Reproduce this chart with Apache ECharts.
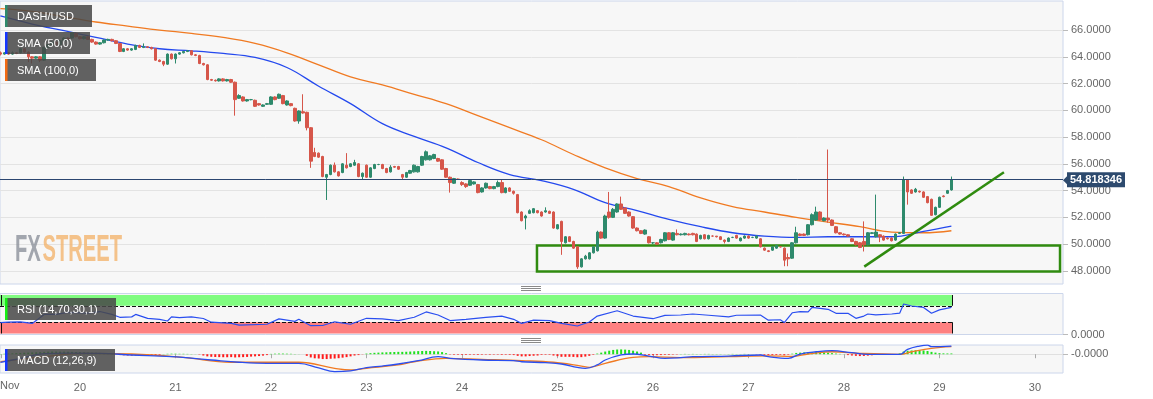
<!DOCTYPE html>
<html><head><meta charset="utf-8">
<script src="https://cdn.jsdelivr.net/npm/echarts@6.0.0/dist/echarts.min.js"></script>
<style>html,body{margin:0;padding:0;background:#fff;}#c{width:1153px;height:399px;}</style>
</head><body><div id="c"></div>
<script>
// ---------------- DATA ----------------
// hourly candles [open, close, low, high]; first candle = Nov 19 04:00 (hour 4 from Nov 19 00:00)
const firstHour = 4;
const candles = [
// Nov 19 04:00 - 23:00
[64.3,64.2,64.1,64.4],[64.2,64.3,64.15,64.35],[64.3,64.2,64.15,64.35],[64.2,64.3,64.15,64.4],
[64.3,64.25,64.2,64.35],[64.3,64.6,64.25,64.65],[64.6,64.35,64.3,64.65],[64.35,64.0,63.6,64.4],
[64.0,63.9,63.5,64.05],[63.9,64.0,63.85,64.05],[64.0,63.75,63.6,64.05],[63.75,64.7,63.7,64.75],
[64.7,64.9,64.65,64.95],[64.9,65.1,64.85,65.15],[65.1,64.9,64.85,65.15],[64.9,65.2,64.85,65.25],
[65.2,65.4,65.15,65.45],[65.4,65.3,65.25,65.45],[65.4,65.8,65.35,65.85],[65.75,65.5,65.45,65.8],
// Nov 20
[65.5,65.35,65.3,65.55],[65.35,65.5,65.3,65.55],[65.5,65.3,65.25,65.55],[65.3,65.1,65.05,65.35],
[65.1,64.95,64.9,65.15],[64.95,65.05,64.9,65.1],[65.05,65.25,65.0,65.3],[65.25,65.3,65.2,65.35],
[65.3,65.2,65.15,65.35],[65.2,65.0,64.95,65.25],[65.0,64.4,64.35,65.05],[64.4,64.6,64.35,64.65],
[64.6,64.5,64.45,64.65],[64.5,64.6,64.45,64.65],[64.55,64.85,64.5,64.9],[64.85,64.7,64.65,64.9],
[64.7,64.75,64.65,65.0],[64.75,64.7,64.65,64.8],[64.7,64.6,64.55,64.75],[64.6,63.75,63.7,64.65],
[63.75,63.65,63.6,63.8],[63.65,63.45,63.3,63.7],[63.45,64.2,63.4,64.25],[64.2,63.85,63.8,64.25],
// Nov 21
[63.85,64.2,63.5,64.25],[64.2,64.3,64.15,64.35],[64.3,64.4,64.25,64.45],[64.4,64.45,64.35,64.5],
[64.45,64.15,64.1,64.5],[64.15,64.1,64.05,64.2],[64.1,63.5,63.45,64.15],[63.5,63.4,63.35,63.55],
[63.4,62.3,62.25,63.45],[62.3,62.25,62.2,62.35],[62.25,62.2,62.15,62.3],[62.2,62.35,62.15,62.4],
[62.35,62.2,62.15,62.4],[62.2,62.3,62.15,62.35],[62.3,62.1,62.05,62.35],[62.1,60.8,59.6,62.15],
[60.9,61.1,60.85,61.2],[61.0,60.7,60.65,61.05],[60.7,60.8,60.65,60.85],[60.8,60.8,60.75,60.85],
[60.75,60.3,60.25,60.8],[60.5,60.4,60.35,60.55],[60.3,60.4,60.25,60.45],[60.45,60.5,60.4,60.55],
// Nov 22
[60.45,61.0,60.4,61.05],[61.0,60.8,60.75,61.05],[60.9,61.2,60.85,61.25],[61.1,60.5,60.45,61.15],
[60.4,60.7,60.35,60.75],[60.5,60.35,60.3,60.55],[60.15,59.2,59.15,60.2],[59.2,59.95,59.0,60.0],
[59.9,59.8,59.75,61.2],[59.85,58.7,58.5,59.9],[58.7,56.2,55.7,58.75],[56.85,56.55,56.5,57.2],
[56.8,56.5,56.45,56.85],[56.55,55.05,55.0,56.6],[55.0,55.2,53.3,55.25],[55.2,55.9,55.15,55.95],
[55.9,55.4,55.35,56.1],[55.4,55.1,55.05,55.45],[55.35,56.0,55.3,56.05],[55.9,55.7,55.65,56.8],
[55.8,56.0,55.75,56.05],[55.9,56.1,55.85,56.3],[56.0,55.05,55.0,56.05],[55.05,55.3,54.85,55.35],
// Nov 23
[55.9,55.0,54.95,55.95],[55.0,55.7,54.95,55.75],[55.65,55.95,55.6,56.0],[55.95,55.95,55.9,56.0],
[55.95,55.65,55.6,56.0],[55.65,55.35,55.3,55.7],[55.4,55.75,55.35,55.9],[55.8,55.75,55.7,55.85],
[55.8,55.6,55.55,55.85],[55.2,55.0,54.8,55.25],[55.0,55.35,54.95,55.4],[55.3,55.5,55.25,55.55],
[55.4,55.9,55.35,55.95],[55.4,55.8,55.35,55.85],[55.9,56.55,55.85,56.6],[56.3,56.9,56.25,57.0],
[56.3,56.6,56.25,56.65],[56.4,56.7,56.35,56.75],[56.4,56.2,56.15,56.45],[56.3,55.6,55.55,56.35],
[55.65,55.0,54.95,55.7],[55.0,54.6,53.85,55.05],[54.55,54.9,54.5,54.95],[54.85,54.85,54.8,54.9],
// Nov 24
[54.6,54.45,54.35,54.7],[54.5,54.3,54.2,54.55],[54.4,54.75,54.35,54.8],[54.5,54.65,54.45,54.7],
[54.45,53.85,53.8,54.5],[53.9,54.2,53.85,54.25],[54.2,54.55,54.15,54.6],[54.3,54.15,54.1,54.35],
[54.15,54.3,54.1,54.35],[54.3,54.6,54.25,54.75],[54.6,53.85,53.8,54.8],[53.85,54.2,53.8,54.25],
[54.2,53.95,53.9,54.25],[53.95,53.8,53.7,54.0],[53.7,52.35,52.3,53.75],[52.4,51.75,51.7,52.45],
[51.95,52.1,51.1,52.2],[52.3,52.5,52.25,52.6],[52.35,52.65,52.3,52.7],[52.5,52.35,52.3,52.55],
[52.4,52.1,52.05,52.45],[52.4,52.5,52.35,52.75],[52.45,52.3,52.25,52.5],[52.4,51.2,51.15,52.45],
// Nov 25
[51.15,51.45,51.1,51.5],[51.7,50.2,49.2,51.75],[50.1,50.55,50.05,50.6],[50.55,50.2,50.15,50.6],
[50.2,49.7,49.65,50.25],[49.8,48.3,48.15,49.85],[48.3,48.9,48.25,48.95],[48.9,49.1,48.85,49.2],
[48.9,49.35,48.85,49.4],[49.35,49.8,49.3,49.85],[49.5,50.9,49.45,51.0],[50.9,50.45,50.4,50.95],
[50.45,52.1,50.4,52.2],[52.4,52.0,51.9,53.9],[52.0,52.6,51.95,52.7],[52.4,53.0,52.35,53.05],
[53.0,52.6,52.55,53.55],[52.7,52.3,52.25,52.75],[52.4,52.1,52.05,52.45],[52.05,51.2,51.15,52.1],
[51.2,51.0,50.95,51.25],[51.0,50.8,50.75,51.05],[50.75,51.05,50.7,51.1],[50.55,50.1,50.05,50.6],
// Nov 26
[50.1,50.1,50.0,50.15],[50.1,50.0,49.95,50.15],[50.1,50.35,50.05,50.4],[50.25,50.85,50.2,50.9],
[50.85,50.35,50.3,50.9],[50.3,50.85,50.25,50.9],[50.8,50.7,50.65,51.1],[50.7,50.75,50.65,50.8],
[50.7,50.8,50.65,50.85],[50.75,50.7,50.65,50.8],[50.8,50.7,50.65,50.85],[50.75,50.2,50.15,50.8],
[50.4,50.65,50.35,50.7],[50.7,50.4,50.35,50.75],[50.4,50.65,50.35,50.7],[50.6,50.6,50.55,50.65],
[50.6,50.55,50.5,50.6],[50.55,50.35,50.3,50.6],[50.3,50.2,50.05,50.35],[50.2,50.45,50.15,50.5],
[50.5,50.5,50.45,50.55],[50.65,50.45,50.4,50.7],[50.25,50.45,50.2,50.5],[50.45,50.6,50.4,50.65],
// Nov 27
[50.6,50.45,50.4,50.65],[50.5,50.5,50.45,50.55],[50.45,50.6,50.4,50.65],[50.4,49.8,49.75,50.45],
[49.7,49.55,49.5,49.75],[49.5,49.45,49.4,49.55],[49.55,49.8,49.5,49.85],[49.7,49.9,49.65,49.95],
[49.8,49.8,49.75,49.85],[49.7,48.8,48.35,49.75],[49.0,48.9,48.35,49.3],[48.95,50.1,48.9,50.15],
[50.1,50.85,50.05,51.3],[50.75,50.65,50.6,50.8],[50.75,50.65,50.6,50.8],[50.7,51.45,50.65,51.5],
[51.45,52.2,51.4,52.3],[51.8,52.4,51.75,52.8],[52.4,51.8,51.75,52.45],[51.75,51.95,51.7,52.0],
[51.95,51.8,51.6,57.07],[51.8,51.4,51.35,51.85],[51.3,50.85,50.8,51.35],[50.85,50.75,50.7,50.9],
// Nov 28
[50.75,50.7,50.65,50.8],[50.7,50.6,50.55,50.75],[50.4,50.2,50.15,50.45],[50.2,49.95,49.9,50.25],
[50.1,49.75,49.7,50.15],[50.2,49.95,49.45,51.7],[49.95,50.85,49.9,50.9],[50.8,50.85,50.75,50.9],
[50.55,50.9,50.5,53.7],[50.7,50.55,50.15,50.75],[50.6,50.3,50.25,50.65],[50.45,50.4,50.35,50.5],
[50.45,50.25,50.2,50.5],[50.3,50.75,50.25,50.8],[50.8,50.85,50.75,50.9],[50.8,54.8,50.75,55.05],
[54.8,53.9,52.95,54.85],[54.05,53.8,53.75,54.1],[53.9,54.1,53.85,54.2],[53.95,53.9,53.85,54.0],
[53.9,53.5,53.45,53.95],[53.55,53.1,53.05,53.6],[53.35,52.15,52.1,53.4],[52.2,52.75,52.15,52.8],
// Nov 29
[52.75,53.5,52.7,53.55],[53.6,53.55,53.5,53.65],[53.8,54.0,53.75,54.05],[54.05,54.818346,54.0,55.05]
];
const lastPrice = 54.818346;

// moving averages, sampled at candle indexes
const smaIdx = [0,8,16,24,32,40,48,56,64,72,80,88,96,104,112,120,128,136,144,152,160,168,176,184,192,200,208,216,224,232,239];
const sma50  = [67.05,66.45,65.95,65.45,64.95,64.6,64.45,64.25,63.95,63.2,61.8,60.5,59.0,58.05,57.2,56.1,55.2,54.75,54.1,53.1,52.5,51.85,51.3,50.85,50.6,50.5,50.55,50.55,50.55,50.95,51.35];
const sma100 = [67.6,67.4,67.0,66.6,66.3,66.0,65.75,65.45,65.0,64.3,63.4,62.5,61.9,61.2,60.5,59.6,58.7,57.8,56.7,55.7,54.9,54.3,53.45,52.8,52.4,52.0,51.65,51.3,50.9,50.85,51.0];

// RSI [candle index, value]
const rsi = [[0,29],[2,30],[5,31],[8,27],[11,49],[14,49],[17,54],[22,52],[25,56],[28,49],[30,42],[33,43],[34,49],[37,39.5],[40,37],[42,33],[43,43],[45,41],[48,43],[51,39],[53,30],[58,27],[60,23],[67,25],[70,38],[74,32],[75,37],[78,21.5],[81,22],[84,31],[88,25],[92,39.5],[96,38],[100,34],[104,42],[107,55],[110,47.5],[113,34],[117,37],[122,42],[126,44.7],[129,37],[131,27],[134,35],[138,34],[141,27],[145,20.7],[148,30.5],[150,45],[155,58],[159,45],[164,38.5],[167,46.5],[171,47.5],[174,50],[178,47],[183,43],[185,47],[191,47.5],[193,35],[196,36],[197,29],[199,53],[201,56],[203,55],[204,66],[208,61.5],[210,51.7],[213,51.7],[215,39.5],[217,45],[218,50],[220,48],[224,50],[226,52],[227,74.4],[229,69.5],[232,66],[234,51.7],[236,60],[239,66]];
const rsiUpper = 70, rsiLower = 30;

// MACD line and signal [candle index, value]
const macd = [[0,-0.75],[5,-0.4],[11,0.05],[17,0.1],[25,0.08],[33,-0.07],[43,-0.23],[53,-0.54],[60,-0.75],[67,-0.85],[75,-0.85],[80,-1.28],[84,-1.62],[88,-1.56],[92,-1.25],[96,-1.1],[100,-0.91],[105,-0.6],[110,-0.23],[113,-0.38],[121,-0.54],[129,-0.6],[131,-0.7],[137,-0.79],[141,-0.91],[145,-1.22],[147,-1.31],[150,-1.0],[152,-0.54],[156,-0.07],[159,0.02],[163,-0.17],[167,-0.38],[171,-0.32],[174,-0.23],[183,-0.17],[191,-0.07],[193,-0.23],[198,-0.38],[201,0.02],[205,0.23],[209,0.33],[214,0.14],[218,-0.01],[226,-0.01],[228,0.45],[231,0.76],[233,0.85],[234,0.7],[239,0.76]];
const signal = [[0,-0.7],[11,-0.23],[21,0.08],[33,0.02],[46,-0.3],[58,-0.75],[75,-0.75],[84,-1.31],[88,-1.47],[92,-1.31],[100,-1.0],[104,-0.7],[112,-0.38],[121,-0.48],[131,-0.6],[139,-0.75],[146,-1.1],[148,-1.22],[152,-0.85],[159,-0.29],[163,-0.23],[171,-0.32],[183,-0.23],[193,-0.15],[199,-0.2],[203,0.02],[209,0.23],[216,0.08],[226,-0.01],[229,0.23],[234,0.55],[239,0.7]];
// MACD histogram, one bar per candle
const hist = [
0.02,0.04,0.06,0.08,0.1,0.12,0.14,0.15,0.17,0.18,0.2,0.22,0.24,0.25,0.25,0.24,0.24,0.23,0.22,0.21,0.2,0.18,0.16,0.15,
0.14,0.12,0.1,0.07,0.03,-0.03,-0.08,-0.1,-0.12,-0.13,-0.12,-0.12,-0.11,-0.1,-0.08,-0.09,-0.06,0.02,0.04,0.05,0.05,0.04,0.04,0.03,
0.02,0.01,-0.03,-0.12,-0.2,-0.24,-0.26,-0.27,-0.28,-0.28,-0.27,-0.3,-0.28,-0.27,-0.25,-0.22,-0.2,-0.17,-0.13,-0.08,0.03,0.05,0.06,0.06,
0.05,0.04,0.02,0.01,0.0,-0.15,-0.3,-0.38,-0.4,-0.45,-0.45,-0.42,-0.4,-0.37,-0.32,-0.27,-0.2,-0.12,-0.08,-0.02,0.06,0.1,0.13,0.15,
0.17,0.18,0.2,0.21,0.22,0.22,0.23,0.25,0.27,0.29,0.3,0.31,0.3,0.28,0.26,0.2,0.1,-0.03,-0.05,-0.05,-0.06,-0.06,-0.05,-0.05,
-0.06,-0.05,-0.04,-0.05,-0.04,-0.04,-0.06,-0.05,-0.06,-0.08,-0.15,-0.2,-0.2,-0.17,-0.14,-0.12,-0.06,-0.05,-0.05,-0.12,-0.18,-0.24,-0.24,-0.24,
-0.25,-0.28,-0.27,-0.22,-0.15,-0.05,0.06,0.15,0.25,0.33,0.4,0.44,0.45,0.43,0.4,0.33,0.25,0.15,-0.05,-0.08,-0.09,-0.09,-0.08,-0.06,
-0.06,-0.04,-0.03,0.02,0.03,0.02,0.03,0.02,0.02,0.03,0.03,0.02,0.02,0.02,0.01,0.02,0.03,0.02,0.02,0.03,0.02,0.01,-0.02,-0.04,
-0.06,-0.08,-0.08,-0.07,-0.06,-0.1,-0.05,0.05,0.12,0.15,0.17,0.18,0.2,0.2,0.18,0.16,0.14,0.1,0.06,0.03,0.01,-0.08,-0.12,-0.15,
-0.17,-0.16,-0.13,-0.1,-0.06,-0.04,-0.03,-0.02,-0.02,0.0,0.08,0.25,0.32,0.35,0.37,0.37,0.35,0.3,0.22,0.15,0.1,0.08,0.07,0.07
];

// axes
const xMin = 3.9, xMax = 271.05;            // hours from Nov 19 00:00
const dayHours = [24,48,72,96,120,144,168,192,216,240,264];
const dayLabels = ['20','21','22','23','24','25','26','27','28','29','30'];
const monthLabel = 'Nov';
const priceTicks = [48,50,52,54,56,58,60,62,64,66];
const priceMin = 47.02, priceMax = 68.17;

// annotations (hours, price)
const supportBox = [138.85, 49.9, 270.3, 47.96];
const trendLine = [[221.1, 48.32], [256.2, 55.37]];
const bandEnd = 243.15;

const legendBoxes = [
  {text:'DASH/USD', y:5, w:87, bar:'#2e8a6c'},
  {text:'SMA (50,0)', y:32, w:85, bar:'#1536ff'},
  {text:'SMA (100,0)', y:59, w:91, bar:'#f26a12'},
  {text:'RSI (14,70,30,1)', y:298, w:111, bar:'#14f014'},
  {text:'MACD (12,26,9)', y:349, w:110, bar:'#1536ff'}
];

// ---------------- CHART ----------------
const T = i => firstHour + i;
const FONT = '"Liberation Sans", Arial, sans-serif';
const chart = echarts.init(document.getElementById('c'), null, {renderer:'canvas'});

const graphics = [];
legendBoxes.forEach(b => {
  graphics.push({type:'rect', z:100, zlevel:1, shape:{x:5,y:b.y,width:b.w,height:22}, style:{fill:'rgba(72,72,72,0.86)'}});
  graphics.push({type:'rect', z:101, zlevel:1, shape:{x:5,y:b.y,width:2.5,height:22}, style:{fill:b.bar}});
  graphics.push({type:'text', z:102, zlevel:1, x:17, y:b.y+11.5, style:{text:b.text, fill:'#fff', font:'11px '+FONT, verticalAlign:'middle'}});
});
graphics.push({type:'text', x:15, y:251, z:1, scaleX:0.56, style:{text:'FX', fill:'rgba(140,145,155,0.8)', font:'bold 36px '+FONT, verticalAlign:'middle'}});
graphics.push({type:'text', x:42.5, y:251, z:1, scaleX:0.56, style:{text:'STREET', fill:'rgba(242,180,110,0.8)', font:'bold 36px '+FONT, verticalAlign:'middle'}});
graphics.push({type:'text', x:0, y:386, z:10, style:{text:monthLabel, fill:'#666', font:'11px '+FONT, verticalAlign:'middle'}});
graphics.push({type:'polygon', z:50, zlevel:1, shape:{points:[[1063,180.2],[1067,176.2],[1067,184.2]]}, style:{fill:'#2d4a6e'}});
[286.5,288.5,290.5,338.5,340.5,342.5].forEach(y => {
  graphics.push({type:'line', z:10, shape:{x1:521,y1:y,x2:541,y2:y}, style:{stroke:'#8a8a8a', lineWidth:1}});
});

const gridBase = {left:0, width:1063, show:true, backgroundColor:'#f7f7f7', borderColor:'#ccd6eb', borderWidth:1, outerBoundsMode:'none', containLabel:false};

const option = {
  animation:false,
  textStyle:{fontFamily:FONT},
  grid:[
    Object.assign({top:1, height:283}, gridBase),
    Object.assign({top:293.5, height:41}, gridBase),
    Object.assign({top:345, height:28}, gridBase)
  ],
  xAxis:[
    {type:'value', gridIndex:0, min:xMin, max:xMax, show:false},
    {type:'value', gridIndex:1, min:xMin, max:xMax, show:false},
    {type:'value', gridIndex:2, min:xMin, max:xMax,
      axisLine:{show:false},
      axisTick:{show:true, length:4, customValues:[4.15].concat(dayHours), lineStyle:{color:'#aaa'}},
      axisLabel:{customValues:dayHours, formatter:v => dayLabels[dayHours.indexOf(Math.round(v))] || '', color:'#666', fontSize:11, margin:9},
      splitLine:{show:false}}
  ],
  yAxis:[
    {type:'value', gridIndex:0, position:'right', min:priceMin, max:priceMax,
      axisLine:{show:false},
      axisTick:{show:true, length:5, customValues:priceTicks, lineStyle:{color:'#bbb'}},
      axisLabel:{customValues:priceTicks, formatter:v => v.toFixed(4), color:'#666', fontSize:11, margin:8},
      splitLine:{show:true, lineStyle:{color:'#e3e3e3'}}},
    {type:'value', gridIndex:1, position:'right', min:0, max:100,
      axisLine:{show:false},
      axisTick:{show:true, length:5, customValues:[0], lineStyle:{color:'#bbb'}},
      axisLabel:{customValues:[0], formatter:() => '0.0000', color:'#666', fontSize:11, margin:8},
      splitLine:{show:false}},
    {type:'value', gridIndex:2, position:'right', min:-1.75, max:0.86,
      axisLine:{show:false},
      axisTick:{show:true, length:5, customValues:[0], lineStyle:{color:'#bbb'}},
      axisLabel:{customValues:[0], formatter:() => '-0.0000', color:'#666', fontSize:11, margin:8},
      splitLine:{show:true, lineStyle:{color:'#e0e0e0'}}}
  ],
  graphic:graphics,
  series:[
    {type:'line', xAxisIndex:0, yAxisIndex:0, data:smaIdx.map((k,j)=>[T(k), sma100[j]]), smooth:0.4, showSymbol:false, lineStyle:{color:'#f07a22', width:1.3}, z:3},
    {type:'line', xAxisIndex:0, yAxisIndex:0, data:smaIdx.map((k,j)=>[T(k), sma50[j]]), smooth:0.4, showSymbol:false, lineStyle:{color:'#2449ee', width:1.3}, z:3},
    {type:'candlestick', xAxisIndex:0, yAxisIndex:0,
      data:candles.map((c,i)=>[T(i), c[0], c[1], c[2], c[3]]),
      encode:{x:0, y:[1,2,3,4]},
      barWidth:3,
      itemStyle:{color:'#2e8a6c', color0:'#d6564a', borderColor:'#2e8a6c', borderColor0:'#d6564a', borderWidth:1},
      z:4,
      markLine:{silent:true, symbol:['none','none'], animation:false,
        data:[{yAxis:lastPrice}],
        lineStyle:{color:'#2b4670', width:1, type:'solid'},
        label:{show:true, position:'end', distance:4, formatter:String(lastPrice), backgroundColor:'#2d4a6e', color:'#fff', fontWeight:'bold', fontSize:11, padding:[2,3,2,3]}},
      markArea:{silent:true,
        data:[[{xAxis:supportBox[0], yAxis:supportBox[1]}, {xAxis:supportBox[2], yAxis:supportBox[3]}]],
        itemStyle:{color:'rgba(0,0,0,0)', borderColor:'#2f8b0f', borderWidth:2.5},
        label:{show:false}}
    },
    {type:'line', xAxisIndex:0, yAxisIndex:0, data:trendLine, showSymbol:false, lineStyle:{color:'#2f8b0f', width:2.5}, z:6},
    // RSI
    {type:'line', xAxisIndex:1, yAxisIndex:1, data:rsi.map(p=>[T(p[0]), p[1]]), showSymbol:false, lineStyle:{color:'#2a4ef0', width:1.2}, z:5,
      markArea:{silent:true, label:{show:false},
        data:[
          [{xAxis:xMin, yAxis:rsiUpper, itemStyle:{color:'#80fc80'}}, {xAxis:bandEnd, yAxis:96.3}],
          [{xAxis:xMin, yAxis:2.4, itemStyle:{color:'#fe8080'}}, {xAxis:bandEnd, yAxis:rsiLower}]
        ]},
      markLine:{silent:true, symbol:['none','none'], label:{show:false},
        lineStyle:{color:'#111', width:1, type:'dashed'},
        data:[
          [{coord:[xMin, rsiUpper]}, {coord:[bandEnd, rsiUpper]}],
          [{coord:[xMin, rsiLower]}, {coord:[bandEnd, rsiLower]}],
          [{coord:[bandEnd, rsiUpper], lineStyle:{type:'solid', color:'#111'}}, {coord:[bandEnd, 96.3]}],
          [{coord:[bandEnd, 2.4], lineStyle:{type:'solid', color:'#111'}}, {coord:[bandEnd, rsiLower]}],
          [{coord:[4.15, rsiUpper], lineStyle:{type:'solid', color:'#111'}}, {coord:[4.15, 96.3]}],
          [{coord:[4.15, 2.4], lineStyle:{type:'solid', color:'#111'}}, {coord:[4.15, rsiLower]}]
        ]}
    },
    // MACD
    {type:'bar', xAxisIndex:2, yAxisIndex:2, data:hist.map((v,i)=>[T(i), v]), barWidth:2, z:2,
      itemStyle:{color:p => p.value[1] >= 0 ? '#1fe01f' : '#ff1a1a'}},
    {type:'line', xAxisIndex:2, yAxisIndex:2, data:signal.map(p=>[T(p[0]), p[1]]), smooth:0.4, showSymbol:false, lineStyle:{color:'#f07a22', width:1.3}, z:3},
    {type:'line', xAxisIndex:2, yAxisIndex:2, data:macd.map(p=>[T(p[0]), p[1]]), smooth:0.4, showSymbol:false, lineStyle:{color:'#2a4ef0', width:1.3}, z:4}
  ]
};
chart.setOption(option);
</script></body></html>
